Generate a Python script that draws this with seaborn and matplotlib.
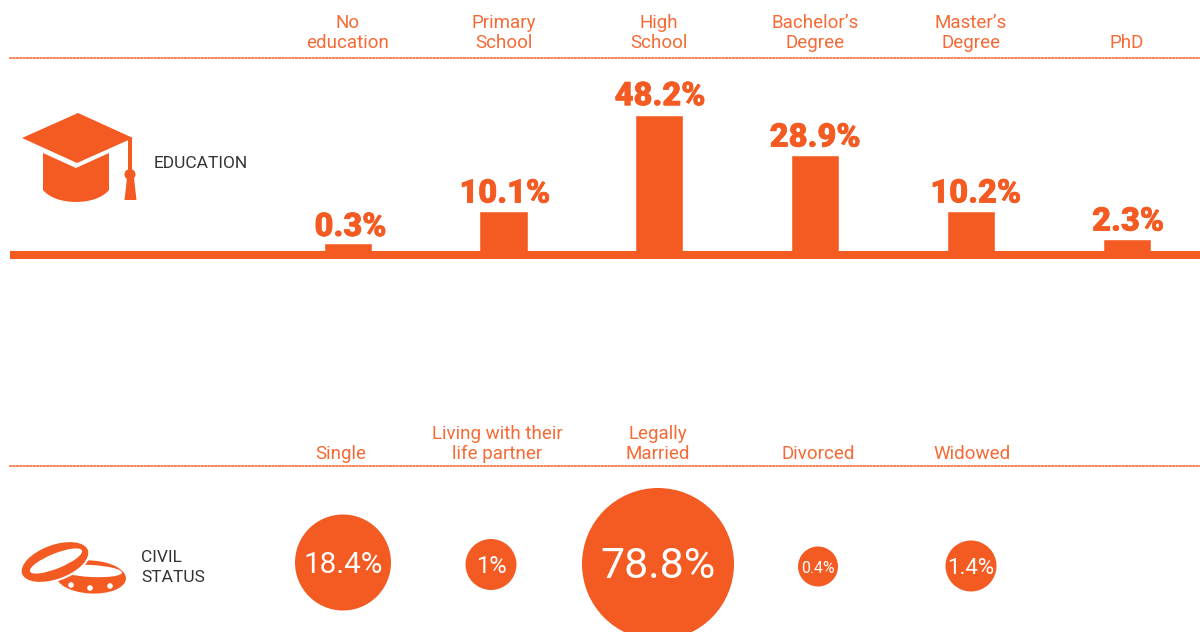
import numpy as np
import pandas as pd
import seaborn as sns
import matplotlib.pyplot as plt
import matplotlib.patheffects as pe
from matplotlib.patches import Circle, Ellipse, PathPatch, Polygon, Rectangle
from matplotlib.path import Path

ORANGE = "#F45B22"
LABEL_ORANGE = "#F56A35"
DARK = "#333333"

# Education panel
edu_labels = ["No\neducation", "Primary\nSchool", "High\nSchool",
              "Bachelor’s\nDegree", "Master’s\nDegree", "PhD"]
edu_values = [0.3, 10.1, 48.2, 28.9, 10.2, 2.3]

# Civil status panel
civil_labels = ["Single", "Living with their\nlife partner", "Legally\nMarried",
                "Divorced", "Widowed"]
civil_values = [18.4, 1, 78.8, 0.4, 1.4]
civil_text = ["18.4%", "1%", "78.8%", "0.4%", "1.4%"]

# The original is an infographic, its bars and circles are not to scale.
# These keep the drawn sizes while the data stays the real percentages.
bar_scale_values = [0, 0.3, 2.3, 10.1, 10.2, 28.9, 48.2, 70]
bar_scale_pixels = [0, 12, 16, 44, 44.1, 100, 140, 197]
circle_diameters = {18.4: 96, 1: 51, 78.8: 152, 0.4: 40, 1.4: 51}
circle_centers = [343, 491, 658, 818, 971]
circle_rows = [0.5, -1.5, -1, -3.5, -3]
civil_tick_centers = [341, 497, 658, 818, 972]
civil_text_sizes = [21.3, 17, 31, 11.4, 16]
# small shifts of the value labels, points
value_nudges = [(2, -1.5), (1, -0.5), (0.5, 0.5), (0, -0.5), (3.5, -0.5), (1, -0.5)]

sns.set_theme(style="white")
plt.rcParams["font.family"] = ["Roboto", "DejaVu Sans"]

W, H = 1200, 632
fig = plt.figure(figsize=(W / 100, H / 100), dpi=100)


def style_panel(ax, pad):
    for side in ["left", "right"]:
        ax.spines[side].set_visible(False)
    ax.patch.set_alpha(0)
    ax.spines["top"].set_color(ORANGE)
    ax.spines["top"].set_linewidth(1.1)
    ax.spines["top"].set_linestyle((0, (0.9, 1.3)))
    ax.set_xlabel("")
    ax.set_ylabel("")
    ax.set_yticks([])
    ax.xaxis.tick_top()
    ax.tick_params(axis="x", length=0, pad=pad, labelsize=13.5, labelcolor=LABEL_ORANGE)
    for lab in ax.get_xticklabels():
        lab.set_linespacing(1.12)


# bars
ax1 = fig.add_axes([10 / W, (H - 255) / H, 1190 / W, 197 / H])
df_edu = pd.DataFrame({"level": edu_labels, "share": edu_values})
sns.barplot(data=df_edu, x="level", y="share", color=ORANGE, saturation=1,
            width=0.31, ax=ax1)
ax1.set_yscale("function", functions=(
    lambda v: np.interp(v, bar_scale_values, bar_scale_pixels),
    lambda p: np.interp(p, bar_scale_pixels, bar_scale_values),
))
ax1.set_ylim(0, 70)
ax1.set_xlim((10 - 347.7) / 155.8, (1200 - 347.7) / 155.8)
style_panel(ax1, 4.6)
ax1.spines["bottom"].set_color(ORANGE)
ax1.spines["bottom"].set_linewidth(5.8)
ax1.spines["bottom"].set_capstyle("butt")
value_texts = ax1.bar_label(ax1.containers[0], labels=[f"{v}%" for v in edu_values],
                            padding=1.5, color=ORANGE, fontsize=23.5, fontweight="black")
for t, nudge in zip(value_texts, value_nudges):
    t.xyann = (nudge[0], 1.5 + nudge[1])
    t.set_path_effects([pe.withStroke(linewidth=0.5, foreground=ORANGE)])

# circles
ax2 = fig.add_axes([10 / W, 0, 1190 / W, 166 / H])
df_civil = pd.DataFrame({"x": circle_centers, "y": circle_rows, "share": civil_values})
sizes = {k: (d * 0.72) ** 2 for k, d in circle_diameters.items()}
sns.scatterplot(data=df_civil, x="x", y="y", size="share", sizes=sizes, color=ORANGE,
                linewidth=0, legend=False, clip_on=False, zorder=3, ax=ax2)
ax2.set_xlim(10, 1200)
ax2.set_ylim(-69, 97)
ax2.set_xticks(civil_tick_centers, civil_labels)
style_panel(ax2, 2.1)
ax2.spines["bottom"].set_visible(False)
for x, y, txt, fs in zip(circle_centers, circle_rows, civil_text, civil_text_sizes):
    ax2.text(x, y - 2.2, txt, color="white", fontsize=fs, ha="center", va="center", zorder=4)

# icons and side labels, pixel coordinates of the page
deco = fig.add_axes([0, 0, 1, 1], zorder=-1)
deco.set_xlim(0, W)
deco.set_ylim(H, 0)
deco.axis("off")

deco.add_patch(Polygon([(22, 138), (78, 113), (133, 138), (77, 163)], fc=ORANGE, lw=0))
body = Path([(43, 153), (76, 168), (109, 153), (109, 190), (96, 206), (56, 206),
             (43, 190), (43, 153)],
            [Path.MOVETO, Path.LINETO, Path.LINETO, Path.LINETO, Path.CURVE4,
             Path.CURVE4, Path.CURVE4, Path.CLOSEPOLY])
deco.add_patch(PathPatch(body, fc=ORANGE, lw=0))
deco.add_patch(Rectangle((128.2, 138), 4, 34, fc=ORANGE, lw=0))
deco.add_patch(Circle((130, 174.5), 5.5, fc=ORANGE, lw=0))
deco.add_patch(Polygon([(127, 178), (134, 178), (136.5, 200), (124.5, 200)], fc=ORANGE, lw=0))

deco.add_patch(Ellipse((91, 577), 70, 33, angle=3, fc=ORANGE, lw=0))
deco.add_patch(Ellipse((91, 571), 62, 12, angle=3, fc="white", lw=0))
for cx, cy in [(71, 585), (90, 588), (110, 586)]:
    deco.add_patch(Circle((cx, cy), 2.8, fc="white", lw=0))
deco.add_patch(Ellipse((55, 562), 72, 36, angle=-20, fc=ORANGE, ec="white", lw=1.5))
deco.add_patch(Ellipse((56, 561), 56, 15, angle=-22, fc="white", lw=0))

deco.text(154, 164, "EDUCATION", color=DARK, fontsize=12.5, ha="left", va="center")
deco.text(141, 558, "CIVIL", color=DARK, fontsize=12.5, ha="left", va="center")
deco.text(141, 578, "STATUS", color=DARK, fontsize=12.5, ha="left", va="center")

fig.savefig("out.png", dpi=100, facecolor="white")
